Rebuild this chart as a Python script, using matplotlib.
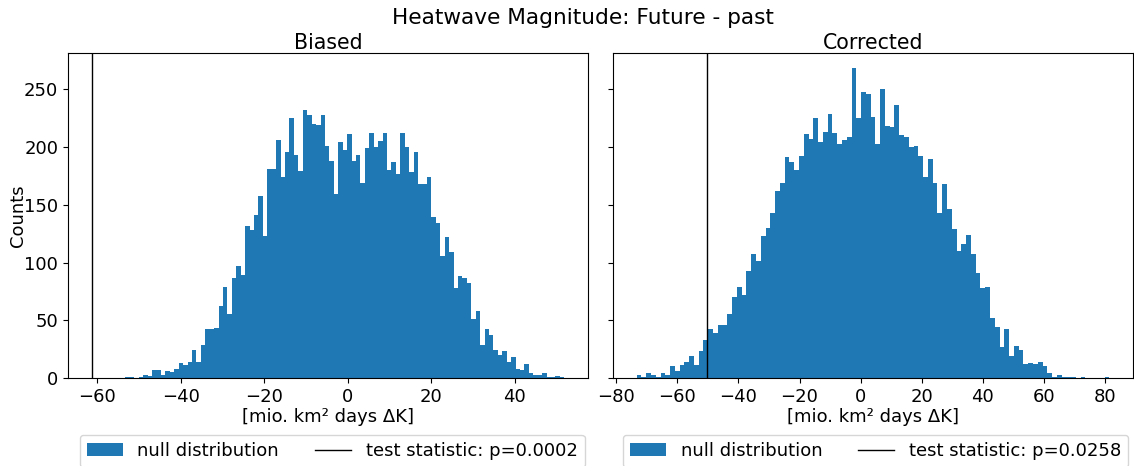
import numpy as np
import matplotlib
matplotlib.use("Agg")
import matplotlib.pyplot as plt

# null distributions (permutation counts per bin) and observed test statistics
biased_counts = [
    1, 1, 0, 1, 3, 2, 7, 7, 3, 6,
    5, 8, 13, 11, 14, 24, 14, 29, 42, 42,
    43, 62, 79, 55, 87, 97, 89, 132, 128, 141,
    158, 123, 181, 181, 206, 174, 196, 225, 193, 179,
    232, 228, 220, 219, 228, 201, 188, 159, 204, 197,
    211, 188, 193, 169, 199, 212, 200, 205, 212, 180,
    187, 177, 212, 200, 178, 196, 168, 168, 174, 139,
    134, 106, 122, 109, 78, 88, 87, 82, 51, 58,
    29, 42, 37, 24, 20, 23, 14, 18, 8, 7,
    12, 4, 3, 3, 4, 1, 1, 2, 1,
]
biased_range = (-53.3, 51.9)
biased_stat = -61.4
biased_p = 0.0002

corrected_counts = [
    3, 1, 4, 3, 1, 4, 3, 10, 6, 11,
    14, 19, 11, 23, 33, 42, 39, 46, 46, 55,
    70, 79, 72, 93, 107, 101, 123, 130, 143, 162,
    169, 191, 187, 180, 192, 211, 207, 225, 204, 213,
    229, 212, 203, 206, 209, 268, 225, 248, 246, 226,
    203, 250, 218, 217, 236, 210, 209, 200, 201, 192,
    174, 190, 169, 143, 168, 146, 129, 110, 116, 124,
    107, 91, 78, 79, 52, 44, 27, 42, 19, 28,
    24, 12, 13, 12, 14, 10, 4, 1, 3, 1,
    1, 1, 0, 1, 0, 0, 0, 0, 1,
]
corrected_range = (-73.3, 81.4)
corrected_stat = -50.3
corrected_p = 0.0258

plt.rcParams["font.size"] = 13

W, H = 1134, 466
fig = plt.figure(figsize=(W / 100, H / 100), dpi=100)


def box(left, top, right, bottom):
    return [left / W, 1 - bottom / H, (right - left) / W, (bottom - top) / H]


ax1 = fig.add_axes(box(68, 53, 588, 378))
ax2 = fig.add_axes(box(613, 53, 1133, 378), sharey=ax1)


def plot_panel(ax, counts, rng, stat, p, title, legend_x):
    edges = np.linspace(rng[0], rng[1], len(counts) + 1)
    ax.hist(edges[:-1], bins=edges, weights=counts, color="C0",
            label="null distribution")
    ax.axvline(stat, color="k", lw=1,
               label="test statistic: p={:.4f}".format(p))
    ax.set_title(title, pad=3, fontsize=14.8)
    ax.set_xlabel("[mio. km² days ΔK]", labelpad=2)
    ax.legend(loc="upper center", bbox_to_anchor=(legend_x, -0.175), ncol=2,
              borderaxespad=0)


plot_panel(ax1, biased_counts, biased_range, biased_stat, biased_p,
           "Biased", 0.508)
plot_panel(ax2, corrected_counts, corrected_range, corrected_stat,
           corrected_p, "Corrected", 0.505)
ax1.set_ylabel("Counts")
ax1.yaxis.set_label_coords(-0.079, 0.5)
ax2.tick_params(labelleft=False)

fig.suptitle("Heatwave Magnitude: Future - past", x=583 / W, y=1 - 8 / H,
             va="top", fontsize=15.6)

fig.savefig("out.png", dpi=100)
